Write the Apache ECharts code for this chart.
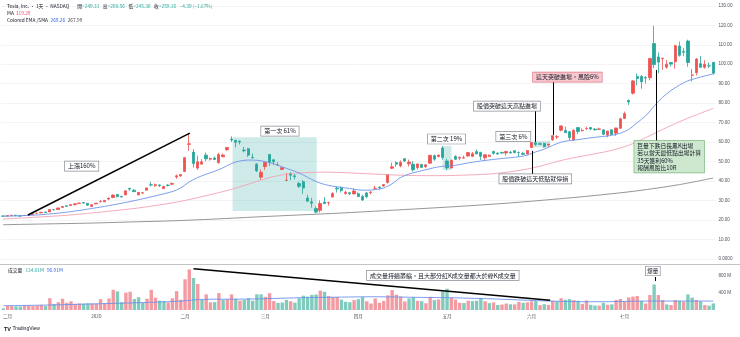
<!DOCTYPE html>
<html><head><meta charset="utf-8">
<script src="https://cdn.jsdelivr.net/npm/echarts@6/dist/echarts.min.js"></script>
<style>html,body{margin:0;padding:0;background:#fff}#c{width:740px;height:337px}</style>
</head><body><div id="c"></div>
<script>
const dates = ['2019-11-29',
'2019-12-02','2019-12-03','2019-12-04','2019-12-05','2019-12-06','2019-12-09','2019-12-10','2019-12-11','2019-12-12','2019-12-13','2019-12-16','2019-12-17','2019-12-18','2019-12-19','2019-12-20','2019-12-23','2019-12-24','2019-12-26','2019-12-27','2019-12-30','2019-12-31',
'2020-01-02','2020-01-03','2020-01-06','2020-01-07','2020-01-08','2020-01-09','2020-01-10','2020-01-13','2020-01-14','2020-01-15','2020-01-16','2020-01-17','2020-01-21','2020-01-22','2020-01-23','2020-01-24','2020-01-27','2020-01-28','2020-01-29','2020-01-30','2020-01-31',
'2020-02-03','2020-02-04','2020-02-05','2020-02-06','2020-02-07','2020-02-10','2020-02-11','2020-02-12','2020-02-13','2020-02-14','2020-02-18','2020-02-19','2020-02-20','2020-02-21','2020-02-24','2020-02-25','2020-02-26','2020-02-27','2020-02-28',
'2020-03-02','2020-03-03','2020-03-04','2020-03-05','2020-03-06','2020-03-09','2020-03-10','2020-03-11','2020-03-12','2020-03-13','2020-03-16','2020-03-17','2020-03-18','2020-03-19','2020-03-20','2020-03-23','2020-03-24','2020-03-25','2020-03-26','2020-03-27','2020-03-30','2020-03-31',
'2020-04-01','2020-04-02','2020-04-03','2020-04-06','2020-04-07','2020-04-08','2020-04-09','2020-04-13','2020-04-14','2020-04-15','2020-04-16','2020-04-17','2020-04-20','2020-04-21','2020-04-22','2020-04-23','2020-04-24','2020-04-27','2020-04-28','2020-04-29','2020-04-30',
'2020-05-01','2020-05-04','2020-05-05','2020-05-06','2020-05-07','2020-05-08','2020-05-11','2020-05-12','2020-05-13','2020-05-14','2020-05-15','2020-05-18','2020-05-19','2020-05-20','2020-05-21','2020-05-22','2020-05-26','2020-05-27','2020-05-28','2020-05-29',
'2020-06-01','2020-06-02','2020-06-03','2020-06-04','2020-06-05','2020-06-08','2020-06-09','2020-06-10','2020-06-11','2020-06-12','2020-06-15','2020-06-16','2020-06-17','2020-06-18','2020-06-19','2020-06-22','2020-06-23','2020-06-24','2020-06-25','2020-06-26','2020-06-29','2020-06-30',
'2020-07-01','2020-07-02','2020-07-06','2020-07-07','2020-07-08','2020-07-09','2020-07-10','2020-07-13','2020-07-14','2020-07-15','2020-07-16','2020-07-17','2020-07-20','2020-07-21','2020-07-22','2020-07-23','2020-07-24','2020-07-27','2020-07-28','2020-07-29','2020-07-30','2020-07-31'];

const tickLabels = ['二月','2020','二月','三月','四月','五月','六月','七月'];

const open = [22.07,
21.96,22.17,22.52,22.19,22.33,22.44,22.80,23.44,23.66,24.07,24.17,25.32,25.38,26.49,27.35,27.45,27.89,28.53,29.00,28.59,27.00,
28.30,29.37,29.36,30.76,31.58,33.14,32.12,32.90,36.28,35.32,32.92,33.84,35.35,38.13,37.62,38.04,36.13,37.90,38.38,42.16,42.67,
44.91,58.86,54.88,46.66,48.70,53.33,51.25,51.86,49.46,52.48,56.11,61.57,60.99,60.47,55.93,56.60,52.17,48.67,41.99,
47.42,53.67,50.93,48.25,46.00,40.36,43.96,42.68,38.73,39.67,31.30,29.33,25.93,24.98,29.21,28.91,31.82,36.35,36.49,33.67,34.02,33.42,
33.52,32.07,33.93,34.08,36.33,36.95,37.47,39.34,46.60,49.47,47.80,51.49,48.85,48.67,46.93,48.51,47.39,49.17,53.04,52.68,57.01,
50.33,46.73,52.65,51.77,51.81,52.92,52.70,55.13,54.72,52.00,52.69,55.19,54.34,54.70,54.40,54.81,55.63,54.72,54.23,53.92,
57.20,59.65,59.21,59.33,58.52,61.27,62.67,66.13,66.01,65.33,61.19,67.46,65.85,66.87,67.53,66.66,66.59,66.27,63.62,66.32,64.60,67.10,
72.20,81.43,85.11,93.67,93.67,93.13,93.07,110.60,103.73,102.87,98.48,100.90,101.27,109.33,106.60,111.93,94.40,95.67,100.27,98.44,99.20,101.00];

const high = [22.08,
22.43,22.53,22.52,22.29,22.59,22.96,23.33,23.74,24.18,24.35,25.57,25.70,26.35,27.01,27.53,28.13,28.36,28.90,29.02,28.60,28.09,
28.71,30.27,30.10,31.44,33.23,33.25,32.33,35.04,36.49,35.86,34.30,34.38,36.57,39.63,38.80,38.26,37.63,38.45,39.32,43.39,43.53,
52.41,64.60,56.40,53.06,51.32,54.67,52.23,52.65,54.53,54.20,57.33,62.99,61.06,60.87,57.57,57.11,54.22,49.32,46.01,
49.58,53.80,51.10,49.72,47.13,44.20,44.53,43.57,39.63,40.50,32.99,31.46,26.99,30.13,31.80,29.47,34.25,37.13,37.33,35.05,34.44,36.20,
34.26,32.95,34.37,34.73,37.67,37.15,38.35,43.47,49.46,50.21,50.63,51.66,51.04,50.22,48.93,48.93,48.72,53.30,53.67,53.55,57.99,
51.52,50.80,53.26,52.65,53.09,54.93,54.93,56.22,55.07,53.56,53.67,55.65,54.80,55.07,55.50,55.45,55.64,55.18,54.98,55.67,
59.93,60.58,59.86,59.72,59.10,63.33,63.63,68.50,67.93,65.87,66.59,67.53,67.00,67.94,67.73,67.26,67.47,66.73,65.73,66.33,67.33,72.51,
75.69,81.87,91.85,95.30,94.48,93.90,103.26,119.67,106.00,103.33,102.11,101.00,110.00,111.67,108.43,112.60,97.67,103.20,104.31,102.07,100.88,101.14];

const low = [21.83,
21.91,22.15,22.19,21.82,22.32,22.37,22.74,23.16,23.55,23.64,24.17,25.06,25.37,26.38,26.68,27.33,27.51,28.42,28.41,27.28,26.81,
28.11,29.13,29.33,30.22,31.22,31.52,31.58,32.80,34.99,34.45,32.81,33.54,35.23,37.27,37.04,36.95,35.95,37.21,37.83,41.20,42.17,
44.90,55.59,46.94,45.80,48.67,50.16,50.53,50.89,49.00,52.37,55.49,60.07,57.33,58.81,54.80,52.47,51.74,44.60,40.77,
45.78,47.74,48.32,47.87,45.62,40.33,40.53,40.87,36.42,33.47,29.48,26.40,23.37,23.87,28.39,27.37,31.60,34.07,34.15,32.94,32.75,33.13,
31.67,29.76,31.20,33.20,35.49,35.56,37.14,38.70,46.16,47.33,47.11,49.84,47.48,44.92,45.91,46.88,46.55,49.00,50.45,52.21,50.90,
45.54,46.53,50.81,50.74,51.49,52.47,52.33,53.87,50.89,50.93,52.44,53.59,53.74,54.12,53.07,54.13,54.38,52.33,53.45,53.61,
56.94,58.07,58.67,57.23,57.75,60.61,61.60,65.50,64.80,60.84,60.57,64.16,65.50,66.30,66.09,66.07,66.27,63.54,62.48,63.66,63.23,66.92,
72.03,79.05,84.40,89.11,87.42,90.09,91.73,98.07,95.40,97.13,97.73,98.87,97.73,103.87,104.13,98.67,91.10,94.20,98.29,97.73,98.07,94.67];

const close = [22.00,
22.32,22.41,22.20,22.02,22.39,22.64,23.26,23.51,23.98,23.89,25.43,25.27,26.21,26.94,27.04,27.95,28.35,28.73,28.69,27.65,27.89,
28.68,29.53,30.10,31.27,32.81,32.09,31.88,34.99,35.86,34.57,34.23,34.03,36.48,37.97,38.15,37.65,37.20,37.79,38.73,42.72,43.37,
52.00,59.14,48.98,49.93,49.87,51.42,51.63,51.15,53.60,53.34,57.23,61.16,59.96,60.07,55.59,53.33,51.92,45.27,44.53,
49.57,49.70,49.97,48.30,46.90,40.53,43.02,42.28,37.37,36.44,29.67,28.68,24.08,28.51,28.50,28.95,33.67,35.95,35.21,34.29,33.48,34.93,
32.10,30.30,32.00,34.42,36.36,36.59,38.20,43.40,47.33,48.66,49.68,50.26,49.76,45.78,48.81,47.04,48.34,53.25,51.27,53.37,52.13,
46.75,50.75,51.21,52.17,52.00,54.63,54.09,53.96,52.73,53.56,53.28,54.24,53.87,54.37,55.17,54.46,54.59,54.68,53.72,55.67,
59.87,58.77,58.86,57.63,59.04,63.33,62.71,68.34,64.86,62.35,66.06,65.48,66.12,66.93,66.73,66.29,66.79,64.06,65.73,63.98,67.29,71.99,
74.64,80.58,91.44,92.66,91.06,92.95,102.98,99.80,101.12,103.07,100.04,100.06,109.53,104.56,106.16,100.87,94.47,102.64,98.43,99.94,99.17,95.38];

const volume = [39,
98,91,84,82,110,104,91,101,117,90,272,139,180,260,165,199,141,152,148,156,149,
143,251,152,266,465,428,180,400,420,252,294,170,258,465,285,216,204,174,269,435,236,
708,935,740,600,230,360,176,182,390,236,246,360,257,215,233,272,213,362,360,
303,387,206,164,170,230,201,170,272,330,308,348,357,445,420,320,297,300,239,190,180,227,
250,300,201,149,267,167,209,338,459,354,311,197,267,300,212,203,155,305,228,243,430,
490,285,240,165,160,212,204,215,280,201,158,174,116,125,149,132,129,186,167,177,
200,204,111,134,117,212,200,270,236,251,227,212,143,219,120,104,99,164,122,131,230,254,
200,290,309,321,210,150,345,587,345,229,130,114,229,210,190,360,285,229,200,114,100,152];

const emaPoints = [[0,22.0],[4,22.2],[8,22.6],[12,23.3],[16,24.3],[20,25.6],[24,27.0],[28,28.6],[32,30.4],[36,32.4],[40,34.6],[42,36.4],[44,39.5],[46,41.8],[48,43.5],[50,45.0],[52,46.8],[54,49.0],[56,50.3],[58,50.8],[60,50.7],[62,50.0],[64,48.9],[66,47.3],[68,45.8],[70,44.2],[72,42.0],[74,39.8],[76,38.3],[78,37.4],[80,36.8],[82,36.2],[84,35.5],[86,35.3],[88,35.6],[90,36.4],[92,38.6],[94,41.8],[96,43.6],[98,44.8],[100,45.8],[102,46.9],[104,47.6],[106,47.8],[108,48.5],[110,49.3],[112,50.0],[114,50.6],[116,51.1],[118,51.6],[120,52.0],[122,52.5],[124,53.3],[126,55.0],[128,56.4],[130,58.3],[132,60.0],[134,60.8],[136,61.3],[138,61.9],[140,62.5],[142,62.9],[144,63.5],[146,64.6],[148,66.5],[150,70.0],[152,73.5],[154,78.5],[156,83.0],[158,86.5],[160,89.3],[162,91.5],[164,92.8],[166,94.0],[168,95.0]];

const maPoints = [[0,20.5],[8,21.5],[16,22.6],[24,24.3],[32,26.2],[40,28.8],[44,30.5],[48,32.5],[52,34.6],[56,37.0],[60,39.8],[64,42.3],[68,43.8],[72,44.4],[76,44.6],[80,44.4],[84,44.0],[88,43.6],[92,43.2],[96,42.9],[100,42.8],[104,42.8],[108,43.0],[112,43.3],[116,43.8],[120,44.8],[124,46.2],[128,48.2],[132,50.6],[136,52.4],[140,54.0],[144,55.8],[148,58.4],[152,62.3],[156,66.5],[160,70.5],[164,74.0],[168,77.4]];

const smaPoints = [[0,17.6],[10,18.0],[20,18.4],[30,19.0],[40,19.6],[50,20.5],[60,21.6],[70,22.6],[80,23.6],[90,24.8],[100,26.0],[110,27.3],[120,28.8],[130,30.6],[140,32.6],[150,35.0],[160,38.2],[168,41.6]];

const volMaPoints = [[0,99],[11,115],[23,145],[35,176],[42,206],[47,244],[58,252],[70,282],[80,297],[87,305],[99,290],[106,282],[117,252],[129,206],[141,190],[153,206],[168,206]];

const FONT = '"Noto Sans CJK TC","Noto Sans",sans-serif';
const UP = '#ef5350', DOWN = '#26a69a';
const N = dates.length;

const candleData = dates.map((d, i) => [open[i], close[i], low[i], high[i]]);
const volData = volume.map((v, i) => {
  const up = i === 0 ? close[i] >= open[i] : close[i] >= close[i - 1];
  return { value: v, itemStyle: { color: up ? '#f39aa2' : '#80cbbe' } };
});
const tickMap = {};
let k = 0;
dates.forEach((d, i) => {
  if (i > 0 && d.slice(0, 7) !== dates[i - 1].slice(0, 7)) { tickMap[i] = tickLabels[k++]; }
});

function box(x, y, text, extra) {
  return {
    coord: [x, y], value: 0,
    label: Object.assign({
      show: true, position: 'inside', formatter: text,
      fontSize: 6, fontFamily: FONT, color: '#131722',
      backgroundColor: '#ffffff', borderColor: '#8a8d96', borderWidth: 0.7,
      padding: [1.3, 3, 1, 3], lineHeight: 7
    }, extra || {})
  };
}
function seg(x1, y1, x2, y2, w) {
  return [{ coord: [x1, y1], lineStyle: { color: '#000', width: w, type: 'solid' } }, { coord: [x2, y2] }];
}
const lineOpts = { symbol: ['none', 'none'], silent: true, label: { show: false }, animation: false };
const baseTs = { fontSize: 4.8, fontWeight: 'normal', fontFamily: FONT, color: '#131722', lineHeight: 6 };
function rs(color, padRight) { return { color: color, fontSize: 4.8, fontFamily: FONT, lineHeight: 6, padding: [0, padRight || 0, 0, 0] }; }

const option = {
  animation: false,
  backgroundColor: '#ffffff',
  title: [
    { left: 7, top: 3, padding: 0, text: '{n|Tesla, Inc. · 1天 · NASDAQ}{d|開}{g|=249.31}{d|高}{g|=260.56}{d|低}{g|=245.36}{d|收}{g|=259.16}{g|−4.39 (−1.67%)}',
      textStyle: Object.assign({}, baseTs, { rich: { n: rs('#131722', 8), d: rs('#131722'), g: rs('#26a69a', 3.5) } }) },
    { left: 7, top: 10.3, padding: 0, text: '{d|MA}{p|319.29}',
      textStyle: Object.assign({}, baseTs, { rich: { d: rs('#131722', 2), p: rs('#e5486e') } }) },
    { left: 7, top: 17.2, padding: 0, text: '{d|Colored EMA /SMA}{b|269.26}{k|267.99}',
      textStyle: Object.assign({}, baseTs, { rich: { d: rs('#131722', 2.5), b: rs('#2f66e8', 2.5), k: rs('#444444') } }) },
    { left: 8, top: 267, padding: 0, text: '{d|成交量}{g|134.01M}{b|96.91M}',
      textStyle: Object.assign({}, baseTs, { rich: { d: rs('#131722', 3), g: rs('#26a69a', 3), b: rs('#2f66e8') } }) },
    { left: 4, top: 326, padding: 0, text: '{l|TV} {t|TradingView}',
      textStyle: { fontSize: 5, fontWeight: 'normal', lineHeight: 6, rich: { l: { color: '#131722', fontSize: 5.5, fontWeight: 'bold', fontFamily: 'Liberation Sans', lineHeight: 6 }, t: { color: '#131722', fontSize: 5, fontFamily: 'Liberation Sans', lineHeight: 6 } } } }
  ],
  graphic: [
    { type: 'line', silent: true, shape: { x1: 0, y1: 264.5, x2: 740, y2: 264.5 }, style: { stroke: '#c4c4c4', lineWidth: 1.2 } }
  ],
  grid: [
    { left: 0.9, width: 714.5, top: 5.8, height: 253.2 },
    { left: 0.9, width: 714.5, top: 265, height: 45 }
  ],
  xAxis: [
    { type: 'category', gridIndex: 0, data: dates, boundaryGap: true, axisLine: { show: false }, axisTick: { show: false }, axisLabel: { show: false }, splitLine: { show: false } },
    { type: 'value', gridIndex: 0, min: -0.5, max: N - 0.5, show: false },
    { type: 'category', gridIndex: 1, data: dates, boundaryGap: true, axisLine: { show: false }, axisTick: { show: false },
      axisLabel: { interval: (i) => tickMap[i] !== undefined, formatter: (v, i) => tickMap[i] || '', fontSize: 4.6, color: '#50535e', margin: 4, fontFamily: FONT },
      splitLine: { show: false } },
    { type: 'value', gridIndex: 1, min: -0.5, max: N - 0.5, show: false }
  ],
  yAxis: [
    { type: 'value', gridIndex: 0, position: 'right', min: 0, max: 130, interval: 10,
      axisLine: { show: false }, axisTick: { show: false },
      axisLabel: { fontSize: 4.6, color: '#50535e', margin: 3, fontFamily: 'Liberation Sans', formatter: v => v === 0 ? '0.0000' : v.toFixed(2) },
      splitLine: { lineStyle: { color: '#f0f1f4', width: 0.8 } } },
    { type: 'value', gridIndex: 1, position: 'right', min: 0, max: 1037, interval: 400,
      axisLine: { show: false }, axisTick: { show: false },
      axisLabel: { fontSize: 4.6, color: '#50535e', margin: 3, fontFamily: 'Liberation Sans', formatter: v => (v === 400 || v === 800) ? v + ' M' : '' },
      splitLine: { show: false } }
  ],
  series: [
    { type: 'candlestick', xAxisIndex: 0, yAxisIndex: 0, data: candleData, barWidth: '66%',
      itemStyle: { color: UP, color0: DOWN, borderColor: UP, borderColor0: DOWN, borderWidth: 0.8 } },
    { type: 'line', xAxisIndex: 1, yAxisIndex: 0, data: smaPoints, showSymbol: false, smooth: 0.3, silent: true,
      lineStyle: { color: '#8a8a8a', width: 0.9 }, z: 3,
      markArea: { silent: true, itemStyle: { color: 'rgba(38,166,154,0.22)' }, data: [
        [{ coord: [54.3, 62.5] }, { coord: [74.2, 24.6] }],
        [{ coord: [104.0, 58.0] }, { coord: [106.1, 45.7] }],
        [{ coord: [125.4, 60.7] }, { coord: [129.4, 57.3] }]
      ] },
      markLine: Object.assign({}, lineOpts, { data: [
        seg(5.9, 22.6, 44.2, 64.6, 1.5),
        seg(126.0, 76.5, 126.0, 60.2, 1),
        seg(125.2, 55.5, 125.2, 43.1, 1),
        seg(130.2, 91.5, 130.2, 63.7, 1),
        seg(154.4, 97.0, 154.4, 59.7, 1)
      ] }),
      markPoint: { symbol: 'rect', symbolSize: 1, itemStyle: { color: 'rgba(0,0,0,0)' }, silent: true, data: [
        box(18.6, 47.7, '上漲160%'),
        box(65.5, 65.7, '第一次 61%'),
        box(104.9, 61.6, '第二次 19%'),
        box(120.7, 63.0, '第三次 6%'),
        box(119.2, 78.5, '股價突破這天高點進場'),
        box(125.9, 41.1, '股價跌破這天低點就停損'),
        box(133.5, 93.4, '這天突破進場，風險6%', { backgroundColor: '#f7c8cf', borderColor: '#e07482' }),
        box(149.2, 52.5, '巨量下跌日長黑K出場\n若以當天最低點出場計算\n35天獲利60%\n報酬風險比10R',
          { position: 'right', distance: 0, align: 'left', verticalAlign: 'middle', backgroundColor: '#cde8cf', borderColor: '#79b77c', lineHeight: 7.3, fontSize: 5.8 })
      ] } },
    { type: 'line', xAxisIndex: 1, yAxisIndex: 0, data: maPoints, showSymbol: false, smooth: 0.3, silent: true,
      lineStyle: { color: '#f2a3b3', width: 0.9 }, z: 3 },
    { type: 'line', xAxisIndex: 1, yAxisIndex: 0, data: emaPoints, showSymbol: false, smooth: 0.3, silent: true,
      lineStyle: { color: '#6d93ea', width: 0.9 }, z: 3 },
    { type: 'bar', xAxisIndex: 2, yAxisIndex: 1, data: volData, barWidth: '80%', silent: true },
    { type: 'line', xAxisIndex: 3, yAxisIndex: 1, data: volMaPoints, showSymbol: false, smooth: 0.3, silent: true,
      lineStyle: { color: '#6d93ea', width: 0.9 }, z: 3,
      markLine: Object.assign({}, lineOpts, { data: [
        seg(45.0, 952, 129.4, 224, 1.5),
        seg(154.2, 761, 154.2, 668, 1)
      ] }),
      markPoint: { symbol: 'rect', symbolSize: 1, itemStyle: { color: 'rgba(0,0,0,0)' }, silent: true, data: [
        box(104.0, 800, '成交量持續萎縮，且大部分紅K成交量都大於綠K成交量'),
        box(153.7, 899, '爆量', { fontSize: 5.5, padding: [1, 1.5, 0.8, 1.5] })
      ] } }
  ]
};
const chart = echarts.init(document.getElementById('c'));
chart.setOption(option);
</script>
</body></html>
